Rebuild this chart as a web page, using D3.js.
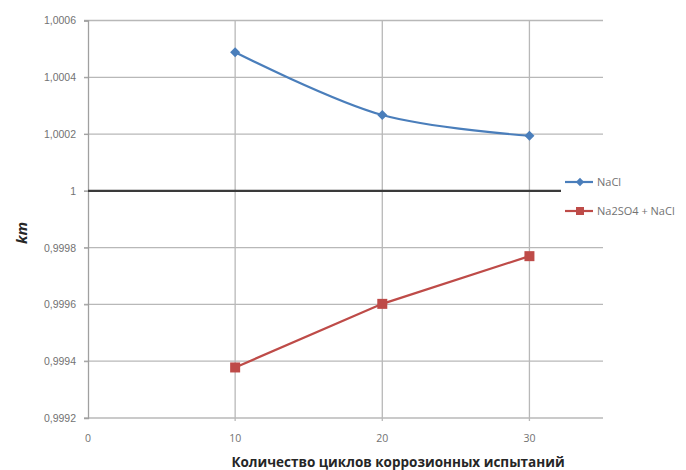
<!DOCTYPE html>
<html>
<head>
<meta charset="utf-8">
<script src="https://cdn.jsdelivr.net/npm/d3@7"></script>
<style>
  html, body { margin: 0; padding: 0; background: #fff; }
  svg { display: block; font-family: "Open Sans", "DejaVu Sans", sans-serif; }
</style>
</head>
<body>
<svg id="chart" width="686" height="470"></svg>
<script>
// Cycle counts (x) and km coefficients for each test medium
const cycles = [10, 20, 30];
const naclValues = [1.000488, 1.000267, 1.000194];
const mixValues = [0.999378, 0.999602, 0.999770];
const seriesNames = ["NaCl", "Na2SO4 + NaCl"];
const yTicks = [0.9992, 0.9994, 0.9996, 0.9998, 1, 1.0002, 1.0004, 1.0006];
const xTicks = [0, 10, 20, 30];
const xTitle = "Количество циклов коррозионных испытаний";
const yTitle = "km";

const svg = d3.select("#chart");
const plot = { left: 88, right: 603, top: 20.5, bottom: 418 };

const x = d3.scaleLinear().domain([0, 35]).range([plot.left, plot.right]);
const y = d3.scaleLinear().domain([0.9992, 1.0006]).range([plot.bottom, plot.top]);

const fmt = v => (v === 1 ? "1" : v.toFixed(4).replace(".", ","));
const gridColor = "#b8b8b8", labelColor = "#727272";

// horizontal gridlines
svg.append("g").selectAll("line").data(yTicks).join("line")
  .attr("x1", plot.left - 4).attr("x2", plot.right)
  .attr("y1", d => y(d)).attr("y2", d => y(d))
  .attr("stroke", gridColor).attr("stroke-width", 1.3);

// vertical gridlines
svg.append("g").selectAll("line").data(xTicks.filter(d => d > 0)).join("line")
  .attr("x1", d => x(d)).attr("x2", d => x(d))
  .attr("y1", plot.top).attr("y2", plot.bottom + 3)
  .attr("stroke", gridColor).attr("stroke-width", 1.3);

// y axis
const yAxis = svg.append("g").attr("transform", `translate(${plot.left},0)`)
  .call(d3.axisLeft(y).tickValues(yTicks).tickFormat(fmt).tickSize(4).tickPadding(8));
yAxis.select(".domain").attr("stroke", "#a0a0a0").attr("stroke-width", 1.3);
yAxis.selectAll(".tick line").attr("stroke", "#a0a0a0");
yAxis.selectAll("text").attr("fill", labelColor).style("font-size", "10.5px");

// x axis tick labels along the bottom
svg.append("g").selectAll("text").data(xTicks).join("text")
  .attr("x", d => x(d)).attr("y", plot.bottom + 24)
  .attr("text-anchor", "middle").attr("fill", labelColor)
  .style("font-size", "10.5px").text(d => d);

// horizontal axis crossing at 1
svg.append("line")
  .attr("x1", plot.left).attr("x2", plot.right)
  .attr("y1", y(1)).attr("y2", y(1))
  .attr("stroke", "#3a3a3a").attr("stroke-width", 2.2);

// axis titles
svg.append("text")
  .attr("x", 398).attr("y", 467)
  .attr("text-anchor", "middle").attr("fill", "#262626")
  .style("font-size", "13.5px").style("font-weight", "bold")
  .text(xTitle);
svg.append("text")
  .attr("transform", "translate(27,233) rotate(-90)")
  .attr("text-anchor", "middle").attr("fill", "#262626")
  .style("font-size", "15px").style("font-weight", "bold").style("font-style", "italic")
  .text(yTitle);

const blue = "#4a7ebb", red = "#be4b48";

// NaCl series (smoothed line with diamond markers)
const naclData = cycles.map((c, i) => [c, naclValues[i]]);
svg.append("path").datum(naclData)
  .attr("fill", "none").attr("stroke", blue).attr("stroke-width", 2.2)
  .attr("d", d3.line().x(d => x(d[0])).y(d => y(d[1])).curve(d3.curveCatmullRom.alpha(0.5)));
svg.append("g").selectAll("path").data(naclData).join("path")
  .attr("transform", d => `translate(${x(d[0])},${y(d[1])})`)
  .attr("d", d3.symbol(d3.symbolDiamond2, 64))
  .attr("fill", blue);

// Na2SO4 + NaCl series (straight segments with square markers)
const mixData = cycles.map((c, i) => [c, mixValues[i]]);
svg.append("path").datum(mixData)
  .attr("fill", "none").attr("stroke", red).attr("stroke-width", 2.2)
  .attr("d", d3.line().x(d => x(d[0])).y(d => y(d[1])));
svg.append("g").selectAll("rect").data(mixData).join("rect")
  .attr("x", d => x(d[0]) - 5).attr("y", d => y(d[1]) - 5)
  .attr("width", 10).attr("height", 10)
  .attr("fill", red);

// legend, on a white box laid over the right edge of the plot
const legend = svg.append("g").attr("transform", "translate(565,0)");
legend.append("rect").attr("x", -4).attr("y", 168)
  .attr("width", 125).attr("height", 56).attr("fill", "#fff");
const legendRows = [
  { name: seriesNames[0], color: blue, yPos: 182, marker: "diamond" },
  { name: seriesNames[1], color: red, yPos: 211, marker: "square" }
];
legendRows.forEach(r => {
  legend.append("line").attr("x1", 0).attr("x2", 28)
    .attr("y1", r.yPos).attr("y2", r.yPos)
    .attr("stroke", r.color).attr("stroke-width", 2.2);
  if (r.marker === "diamond") {
    legend.append("path").attr("transform", `translate(15,${r.yPos})`)
      .attr("d", d3.symbol(d3.symbolDiamond2, 44)).attr("fill", r.color);
  } else {
    legend.append("rect").attr("x", 11).attr("y", r.yPos - 4)
      .attr("width", 8).attr("height", 8).attr("fill", r.color);
  }
  legend.append("text").attr("x", 32).attr("y", r.yPos + 4)
    .attr("fill", labelColor).style("font-size", "11px").text(r.name);
});
</script>
</body>
</html>
